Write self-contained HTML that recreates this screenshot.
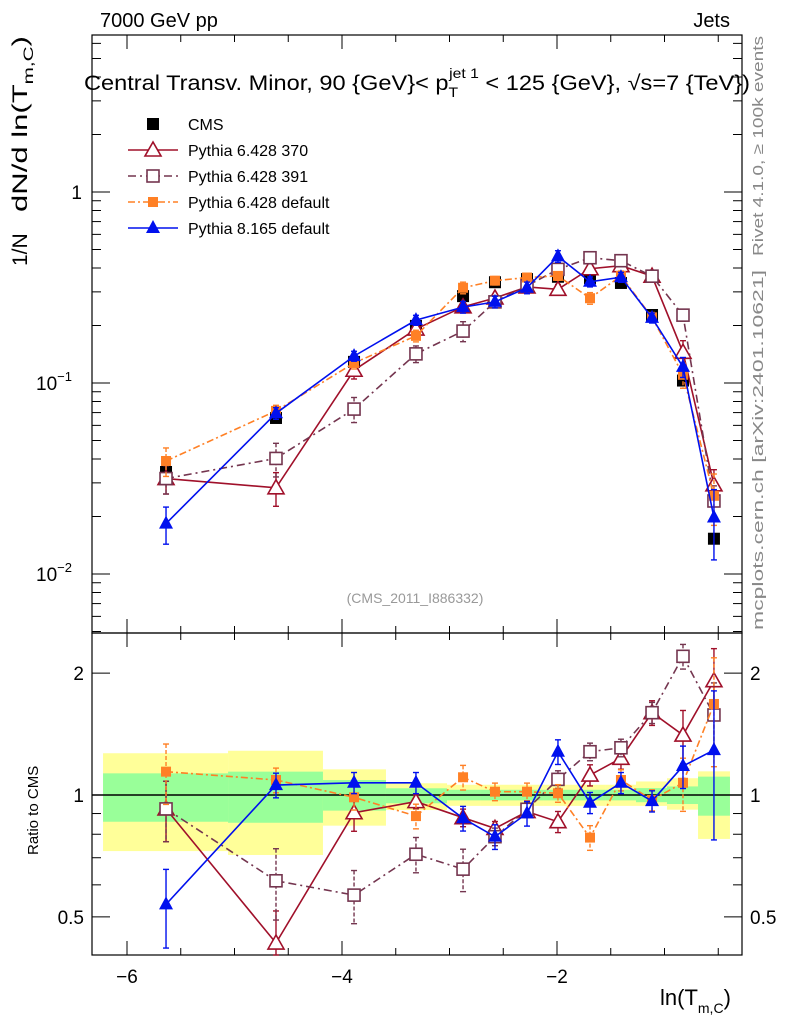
<!DOCTYPE html>
<html><head><meta charset="utf-8"><style>
body{margin:0;background:#fff;}
svg{display:block;font-family:"Liberation Sans",Arial,sans-serif;}
</style></head><body>
<svg id="c" width="786" height="1024" viewBox="0 0 786 1024" xmlns="http://www.w3.org/2000/svg"></svg>
<script>
const xCenters=[-5.637,-4.614,-3.888,-3.312,-2.874,-2.577,-2.279,-1.991,-1.693,-1.405,-1.116,-0.828,-0.540];
const binEdges=[-6.223,-5.060,-4.177,-3.591,-3.023,-2.716,-2.428,-2.130,-1.842,-1.553,-1.265,-0.977,-0.688,-0.391];
const cmsValues=[0.0342,0.0656,0.129,0.199,0.285,0.337,0.350,0.360,0.354,0.334,0.227,0.103,0.0153];
const bandYellowUp=[1.268,1.286,1.157,1.069,1.06,1.06,1.06,1.06,1.06,1.06,1.08,1.10,1.144];
const bandYellowDn=[0.727,0.711,0.840,0.918,0.94,0.94,0.94,0.94,0.94,0.94,0.94,0.92,0.779];
const bandGreenUp=[1.131,1.142,1.089,1.039,1.03,1.03,1.03,1.03,1.03,1.03,1.04,1.05,1.110];
const bandGreenDn=[0.859,0.854,0.915,0.954,0.97,0.97,0.97,0.97,0.97,0.97,0.96,0.95,0.889];
const ratio370=[0.924,0.431,0.904,0.963,0.879,0.827,0.910,0.859,1.120,1.232,1.597,1.406,1.915];
const ratio391=[0.924,0.614,0.566,0.714,0.656,0.789,0.922,1.093,1.279,1.308,1.597,2.200,1.576];
const ratioP6def=[1.142,1.089,0.987,0.887,1.106,1.019,1.019,1.010,0.785,1.089,0.972,1.072,1.678];
const ratioP8def=[0.537,1.058,1.072,1.072,0.876,0.789,0.901,1.279,0.957,1.072,0.966,1.179,1.291];
const err370=[0.17,0.2,0.1,0.04,0.05,0.04,0.03,0.06,0.06,0.06,0.07,0.15,0.2];
const err391=[0.17,0.2,0.15,0.1,0.12,0.05,0.04,0.05,0.05,0.05,0.06,0.07,0.2];
const errP6def=[0.17,0.07,0.07,0.07,0.07,0.05,0.05,0.05,0.07,0.06,0.06,0.15,0.3];
const errP8def=[0.22,0.07,0.06,0.06,0.07,0.07,0.07,0.07,0.06,0.06,0.06,0.12,0.4];
const cmsErr=[0.05,0.05,0.04,0.04,0.04,0.03,0.03,0.03,0.03,0.03,0.04,0.06,0.12];
const xTickLabels=[-6,-4,-2];

const NS="http://www.w3.org/2000/svg";
const svg=document.getElementById('c');
const L=92,R=742,T=35,M=633,B=955;
const X=v=>127+(v+6)*107.5;
const YT=v=>192-Math.log10(v)*191;
const YR=v=>795-Math.log10(v)*405;
function el(t,a,p){const e=document.createElementNS(NS,t);for(const k in a)e.setAttribute(k,a[k]);(p||svg).appendChild(e);return e;}
function txt(s,x,y,a,p){const e=el('text',Object.assign({x:x,y:y},a),p);e.textContent=s;return e;}

const gb=el('g',{});


for(let i=0;i<cmsValues.length;i++){
  const x0=X(binEdges[i]),x1=X(binEdges[i+1]);
  el('rect',{x:x0,y:YR(bandYellowUp[i]),width:x1-x0,height:YR(bandYellowDn[i])-YR(bandYellowUp[i]),fill:'#ffff99'},gb);
  el('rect',{x:x0,y:YR(bandGreenUp[i]),width:x1-x0,height:YR(bandGreenDn[i])-YR(bandGreenUp[i]),fill:'#99ff99'},gb);
}
el('line',{x1:L,x2:R,y1:YR(1),y2:YR(1),stroke:'#000','stroke-width':1.5});

const f1=el('rect',{x:L,y:T,width:R-L,height:M-T,fill:'none',stroke:'#000','stroke-width':1.2});

const f2=el('rect',{x:L,y:M,width:R-L,height:B-M,fill:'none',stroke:'#000','stroke-width':1.2});


for(let v=-6;v<=-0.5;v+=0.5){
  const major=Math.abs(v%2)<1e-6;const len=major?14:7;const x=X(v);
  [[T,1],[M,-1],[M,1],[B,-1]].forEach(([y,d])=>el('line',{x1:x,x2:x,y1:y,y2:y+d*len,stroke:'#000'}));
}
xTickLabels.forEach(v=>{const t=txt('\u2212'+Math.abs(v),X(v),983,{'font-size':19,'text-anchor':'middle'});
});
for(let d=-3;d<=0;d++)for(let m=1;m<=9;m++){const v=m*Math.pow(10,d);const y=YT(v);if(y<T||y>M)continue;
 const len=m==1?18:9;el('line',{x1:L,x2:L+len,y1:y,y2:y,stroke:'#000'});el('line',{x1:R,x2:R-len,y1:y,y2:y,stroke:'#000'});}
[[1,'1',''],[0.1,'10','\u22121'],[0.01,'10','\u22122']].forEach(([v,b,e])=>{
 const t=txt(b,e?72:82,YT(v)+7,{'font-size':19,'text-anchor':'end'});
 if(e){const s=el('tspan',{dy:-9,'font-size':13},t);s.textContent=e;}
 });
[0.5,0.6,0.7,0.8,0.9,1,2].forEach(v=>{const y=YR(v);const len=(v==1||v==2||v==0.5)?18:9;
 el('line',{x1:L,x2:L+len,y1:y,y2:y,stroke:'#000'});el('line',{x1:R,x2:R-len,y1:y,y2:y,stroke:'#000'});});
[[2,'2'],[1,'1'],[0.5,'0.5']].forEach(([v,s])=>{
 const a=txt(s,84,YR(v)+7,{'font-size':19,'text-anchor':'end'});
 const b=txt(s,750,YR(v)+7,{'font-size':19});});

function marker(g,type,x,y,col){
 if(type=='sqF')el('rect',{x:x-6,y:y-6,width:12,height:12,fill:col},g);
 else if(type=='sqS')el('rect',{x:x-5,y:y-5,width:10,height:10,fill:col},g);
 else if(type=='sqO')el('rect',{x:x-6,y:y-6,width:12,height:12,fill:'#fff',stroke:col,'stroke-width':1.6},g);
 else if(type=='triO')el('polygon',{points:`${x},${y-8} ${x-8},${y+6} ${x+8},${y+6}`,fill:'#fff',stroke:col,'stroke-width':1.6},g);
 else if(type=='triF')el('polygon',{points:`${x},${y-8} ${x-7},${y+5} ${x+7},${y+5}`,fill:col},g);
}
const series=[
 {name:'pythia-6428-370',r:ratio370,e:err370,col:'#a0102a',dash:'',m:'triO'},
 {name:'pythia-6428-391',r:ratio391,e:err391,col:'#74354f',dash:'8,4,2,4',m:'sqO'},
 {name:'pythia-6428-default',r:ratioP6def,e:errP6def,col:'#ff8025',dash:'7,3,2,3',m:'sqS'},
 {name:'pythia-8165-default',r:ratioP8def,e:errP8def,col:'#0010ee',dash:'',m:'triF'}];
const gc=el('g',{});


cmsValues.forEach((v,i)=>{const x=X(xCenters[i]);
 el('line',{x1:x,x2:x,y1:YT(v*(1+cmsErr[i])),y2:YT(v*(1-cmsErr[i])),stroke:'#000'},gc);
 marker(gc,'sqF',x,YT(v),'#000');});
series.forEach(s=>{
 ['top','ratio'].forEach(p=>{
  const g=el('g',{});
  
  
  const Y=p=='top'?(i=>YT(s.r[i]*cmsValues[i])):(i=>YR(s.r[i]));
  const Yv=p=='top'?(v=>YT(v)):(v=>YR(v));
  const base=i=>p=='top'?s.r[i]*cmsValues[i]:s.r[i];
  const pts=xCenters.map((x,i)=>X(x)+','+Y(i)).join(' ');
  el('polyline',{points:pts,fill:'none',stroke:s.col,'stroke-width':1.6,'stroke-dasharray':s.dash},g);
  xCenters.forEach((xc,i)=>{const x=X(xc);const v=base(i);
   let y1=Yv(v*(1+s.e[i])),y2=Yv(v*(1-s.e[i]));
   if(p=='ratio'){y1=Math.max(y1,M);y2=Math.min(y2,B);}
   el('line',{x1:x,x2:x,y1:y1,y2:y2,stroke:s.col,'stroke-width':1.4,'stroke-dasharray':s.dash?'4,2':''},g);
   el('line',{x1:x-3,x2:x+3,y1:y1,y2:y1,stroke:s.col,'stroke-width':1.4},g);
   el('line',{x1:x-3,x2:x+3,y1:y2,y2:y2,stroke:s.col,'stroke-width':1.4},g);
   const yy=Y(i);marker(g,s.m,x,p=='ratio'?Math.min(yy,B-6):yy,s.col);
  });
 });
});

const lg=el('g',{});


const ly=[124,150,176,202,228];
marker(lg,'sqF',153,ly[0],'#000');txt('CMS',188,ly[0]+6,{'font-size':16},lg);
series.forEach((s,i)=>{const y=ly[i+1];
 el('line',{x1:128,x2:178,y1:y,y2:y,stroke:s.col,'stroke-width':1.6,'stroke-dasharray':s.dash},lg);
 marker(lg,s.m,153,y,s.col);
 txt(['Pythia 6.428 370','Pythia 6.428 391','Pythia 6.428 default','Pythia 8.165 default'][i],188,y+6,{'font-size':16},lg);});

let t;
t=txt('7000 GeV pp',100,27,{'font-size':20});
t=txt('Jets',730,27,{'font-size':20,'text-anchor':'end'});
t=el('text',{x:84,y:90,'font-size':21,textLength:666,lengthAdjust:'spacingAndGlyphs'});
t.innerHTML='Central Transv. Minor, 90 {GeV}&lt; p<tspan dy="7" font-size="14">T</tspan><tspan dy="-19" dx="-8" font-size="14">jet 1</tspan><tspan dy="12"> &lt; 125 {GeV}, \u221As=7 {TeV})</tspan>';
t=txt('1/N',0,0,{transform:'translate(27,266) rotate(-90)','font-size':21});
t=el('text',{transform:'translate(27,212) rotate(-90)','font-size':21,textLength:176,lengthAdjust:'spacingAndGlyphs'});
t.innerHTML='dN/d ln(T<tspan dy="6" font-size="14">m,C</tspan><tspan dy="-6">)</tspan>';
t=txt('Ratio to CMS',0,0,{transform:'translate(38,855) rotate(-90)','font-size':15});
t=el('text',{x:660,y:1005,'font-size':22});
t.innerHTML='ln(T<tspan dy="8" font-size="14">m,C</tspan><tspan dy="-8">)</tspan>';
t=txt('(CMS_2011_I886332)',415,603,{'font-size':14,fill:'#999','text-anchor':'middle'});
t=txt('Rivet 4.1.0, \u2265 100k events',0,0,{transform:'translate(763,256) rotate(-90)','font-size':15,fill:'#888',textLength:220,lengthAdjust:'spacingAndGlyphs'});
t=txt('mcplots.cern.ch [arXiv:2401.10621]',0,0,{transform:'translate(763,630) rotate(-90)','font-size':15,fill:'#888',textLength:360,lengthAdjust:'spacingAndGlyphs'});
</script>
</body></html>
